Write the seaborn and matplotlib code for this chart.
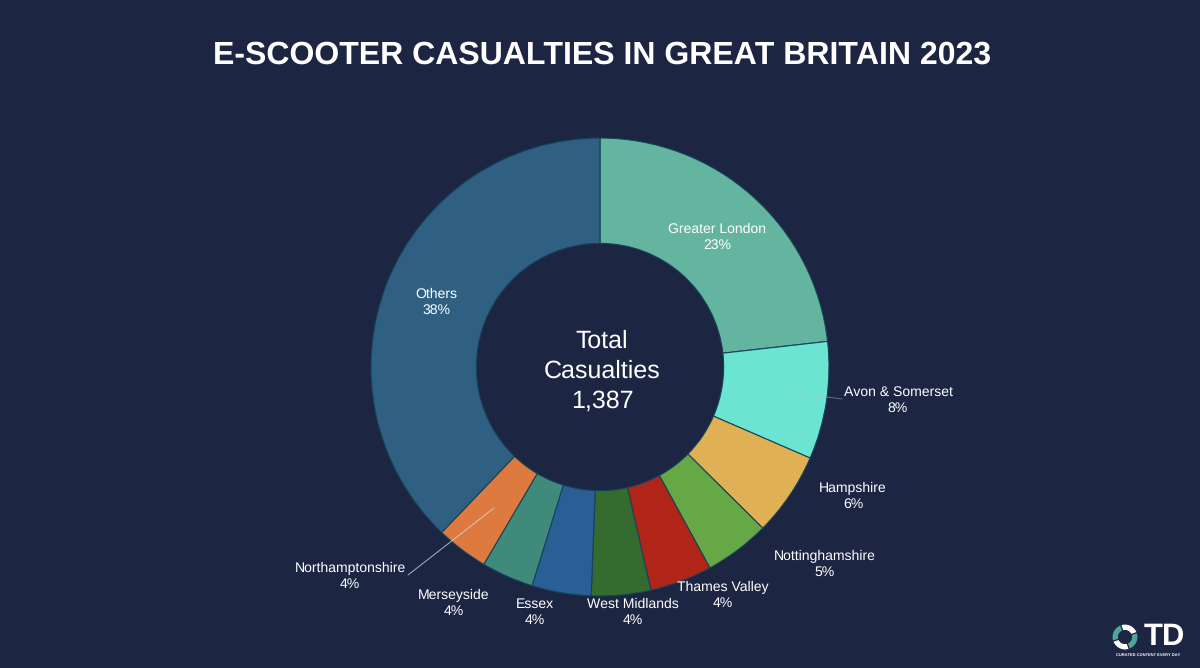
import matplotlib
matplotlib.use("Agg")
import matplotlib.pyplot as plt
from matplotlib.lines import Line2D
import seaborn as sns

regions = ["Greater London", "Avon & Somerset", "Hampshire", "Nottinghamshire", "Thames Valley",
           "West Midlands", "Essex", "Merseyside", "Northamptonshire", "Others"]
casualties = [322, 115, 82, 64, 61, 58, 58, 51, 51, 525]
percents = ["23%", "8%", "6%", "5%", "4%", "4%", "4%", "4%", "4%", "38%"]
colors = ["#64B5A0", "#6BE5D2", "#E0B055", "#66A845", "#B02518",
          "#366B2F", "#2A5F96", "#3F8A7A", "#DE7A40", "#2F6082"]
total_label = "Total\nCasualties\n1,387"
title = "E-SCOOTER CASUALTIES IN GREAT BRITAIN 2023"

# label centres in pixels, same order as regions
label_px = [(717, 237), (898, 400), (853, 496), (825, 564), (723, 595),
            (633, 612), (535, 612), (454, 603), (350, 576), (436, 302)]

BG = "#1C2542"
W, H = 1200, 668

sns.set_theme(style="white")
plt.rcParams["font.family"] = ["Liberation Sans", "DejaVu Sans"]
plt.rcParams["text.hinting"] = "no_hinting"
plt.rcParams["text.hinting_factor"] = 1


def fx(x):
    return x / W


def fy(y):
    return 1 - y / H


fig = plt.figure(figsize=(12, 6.68), dpi=100, facecolor=BG)

# donut, centre 600,367 radius 229
ax = fig.add_axes([fx(600 - 229), fy(367 + 229), 458 / W, 458 / H])
ax.pie(casualties, colors=sns.color_palette(colors), startangle=90, counterclock=False, radius=1,
       wedgeprops={"width": 0.46, "edgecolor": "#17435A", "linewidth": 0.8})
ax.set_xlim(-1, 1)
ax.set_ylim(-1, 1)
ax.set_aspect("equal")

for name, pct, (px, py) in zip(regions, percents, label_px):
    fig.text(fx(px), fy(py), name + "\n" + pct, color="white", fontsize=10.0,
             ha="center", va="center", linespacing=1.27)

fig.text(fx(602), fy(55), title, color="white", fontsize=23.0, fontweight="bold", ha="center", va="center")
fig.text(fx(602), fy(371), total_label, color="white", fontsize=18.2, ha="center", va="center", linespacing=1.38)

# leader lines
fig.add_artist(Line2D([fx(494), fx(408)], [fy(508), fy(575)], color="#D8D8D8", lw=0.7, alpha=0.8))
fig.add_artist(Line2D([fx(785), fx(827), fx(842)], [fy(393), fy(397), fy(399)], color="#AEB8C8", lw=0.7, alpha=0.5))

# logo
logo = fig.add_axes([fx(1112), fy(650), 26 / W, 26 / H])
logo.pie([1, 1, 1, 1], colors=["#FFFFFF", "#4FA595", "#FFFFFF", "#4FA595"], startangle=20,
         radius=1, wedgeprops={"width": 0.5, "edgecolor": BG, "linewidth": 0.8})
logo.set_xlim(-1, 1)
logo.set_ylim(-1, 1)
fig.text(fx(1164), fy(637), "TD", color="white", fontsize=22.5, fontweight="bold", ha="center", va="center")
fig.text(fx(1148), fy(655), "CURATED CONTENT EVERY DAY", color="white", fontsize=2.95, fontweight="bold",
         ha="center", va="center")

fig.savefig("out.png", dpi=100, facecolor=BG)
